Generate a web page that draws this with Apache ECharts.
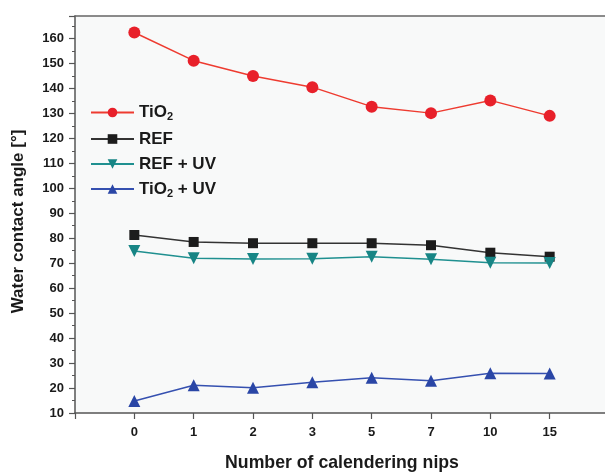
<!DOCTYPE html>
<html><head><meta charset="utf-8">
<script src="https://cdn.jsdelivr.net/npm/echarts@6/dist/echarts.min.js"></script>
<style>html,body{margin:0;padding:0;background:#fff}#c{width:605px;height:473px}</style>
</head><body><div id="c"></div>
<script>
const categories = ['0','1','2','3','5','7','10','15'];
const tio2 = [162.4, 151.1, 145.0, 140.5, 132.7, 130.1, 135.2, 129.0];
const ref = [81.3, 78.5, 78.0, 78.0, 78.0, 77.2, 74.2, 72.6];
const refUV = [74.9, 72.0, 71.7, 71.8, 72.6, 71.6, 70.2, 70.1];
const tio2UV = [14.8, 21.1, 20.1, 22.3, 24.1, 22.9, 25.9, 25.8];
const yTicks = [10,20,30,40,50,60,70,80,90,100,110,120,130,140,150,160];

const toXY = arr => arr.map((v, i) => [i, v]);
const font = 'Arial, "Liberation Sans", sans-serif';
const chart = echarts.init(document.getElementById('c'));
chart.setOption({
  animation: false,
  backgroundColor: '#ffffff',
  grid: { left: 75, top: 16, width: 534, height: 397, outerBoundsMode: 'none', containLabel: false,
          show: true, borderWidth: 0, backgroundColor: '#f8f9f9' },
  legend: {
    orient: 'vertical', left: 85, top: 99, itemWidth: 43, itemHeight: 12, itemGap: 8,
    data: ['TiO2', 'REF', 'REF + UV', 'TiO2 + UV'],
    formatter: n => n === 'TiO2' ? '{a|TiO}{s|2}' : (n === 'TiO2 + UV' ? '{a|TiO}{s|2}{a| + UV}' : '{a|' + n + '}'),
    textStyle: {
      color: '#1a1a1a', fontFamily: font, fontWeight: 'bold', fontSize: 17,
      rich: {
        a: { fontSize: 17, fontWeight: 'bold', fontFamily: font, color: '#1a1a1a', lineHeight: 20 },
        s: { fontSize: 11, fontWeight: 'bold', fontFamily: font, color: '#1a1a1a', lineHeight: 11, verticalAlign: 'bottom' }
      }
    }
  },
  xAxis: [{
    type: 'value', min: -1, max: 8, interval: 1,
    name: 'Number of calendering nips', nameLocation: 'middle', nameGap: 41,
    nameTextStyle: { fontFamily: font, fontWeight: 'bold', fontSize: 17.7, color: '#1a1a1a' },
    axisLine: { show: true, onZero: false, lineStyle: { color: '#555', width: 1.5 } },
    axisTick: { show: true, inside: false, length: 6, lineStyle: { color: '#555', width: 1.2 } },
    splitLine: { show: false },
    axisLabel: { margin: 13, fontFamily: font, fontWeight: 'bold', fontSize: 13, color: '#1a1a1a',
      formatter: v => (Number.isInteger(v) && v >= 0 && v < categories.length) ? categories[v] : '' }
  }, {
    type: 'value', position: 'top', min: -1, max: 8,
    axisLine: { show: true, onZero: false, lineStyle: { color: '#666', width: 1.5 } },
    axisTick: { show: false }, axisLabel: { show: false }, splitLine: { show: false }
  }],
  yAxis: {
    type: 'value', min: 10, max: 169, interval: 10,
    name: 'Water contact angle [°]', nameLocation: 'middle', nameGap: 48,
    nameTextStyle: { fontFamily: font, fontWeight: 'bold', fontSize: 17, color: '#1a1a1a', padding: [0, 14, 0, 0] },
    axisLine: { show: true, onZero: false, lineStyle: { color: '#555', width: 1.5 } },
    axisTick: { show: true, length: 6, lineStyle: { color: '#555', width: 1.2 } },
    minorTick: { show: true, splitNumber: 2, length: 3, lineStyle: { color: '#555', width: 1 } },
    splitLine: { show: false },
    axisLabel: { margin: 11, fontFamily: font, fontWeight: 'bold', fontSize: 13, color: '#1a1a1a',
      formatter: v => yTicks.indexOf(v) >= 0 ? String(v) : '' }
  },
  series: [
    { name: 'TiO2', type: 'line', data: toXY(tio2), symbol: 'circle', symbolSize: 12,
      itemStyle: { color: '#e8202a' }, lineStyle: { color: '#ee3b30', width: 1.5 } },
    { name: 'REF', type: 'line', data: toXY(ref), symbol: 'rect', symbolSize: 10,
      itemStyle: { color: '#1c1c1c' }, lineStyle: { color: '#333', width: 1.5 } },
    { name: 'REF + UV', type: 'line', data: toXY(refUV), symbol: 'triangle', symbolRotate: 180, symbolSize: 12,
      itemStyle: { color: '#178585' }, lineStyle: { color: '#1f9090', width: 1.5 } },
    { name: 'TiO2 + UV', type: 'line', data: toXY(tio2UV), symbol: 'triangle', symbolSize: 12,
      itemStyle: { color: '#2a46a6' }, lineStyle: { color: '#3550b0', width: 1.5 } }
  ]
});
</script></body></html>
